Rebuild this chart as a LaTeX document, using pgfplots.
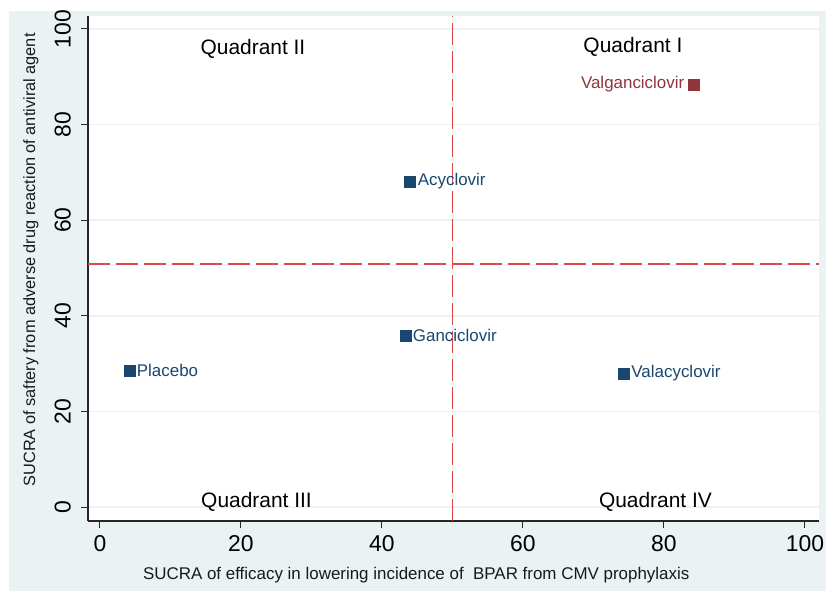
\documentclass[border=0pt]{standalone}
\usepackage{fontspec}
\setmainfont{Liberation Sans}
\usepackage{pgfplots}
\pgfplotsset{compat=1.18}
\definecolor{bg}{RGB}{234,242,243}
\definecolor{navy}{RGB}{26,71,111}
\definecolor{maroon}{RGB}{144,53,59}
\definecolor{dred}{RGB}{222,72,72}
\begin{document}
\begin{tikzpicture}[x=1bp,y=1bp]
\useasboundingbox (0,0) rectangle (826,593);
\fill[white] (0,0) rectangle (826,593);
\fill[bg] (9,2) rectangle (826,582);
\begin{axis}[
  at={(88bp,72bp)}, anchor=south west,
  scale only axis, width=731bp, height=505bp,
  xmin=-1.7, xmax=102, ymin=-2.9, ymax=102.7,
  axis background/.style={fill=white},
  axis lines=left,
  axis line style={-, line width=1.1bp, black!85},
  xtick={0,20,...,100}, ytick={0,20,...,100},
  tick align=outside, major tick length=7bp,
  tick style={line width=1bp, black!85},
  ymajorgrids, grid style={bg, line width=1.6bp},
  /pgf/number format/assume math mode=true,
  tick label style={font=\fontsize{23}{26}\selectfont, black},
  yticklabel style={rotate=90, anchor=south, inner xsep=2bp, inner ysep=10bp},
  xticklabel style={inner xsep=2bp, inner ysep=7bp},
  xlabel={SUCRA of efficacy in lowering incidence of\ \ BPAR from CMV prophylaxis},
  ylabel={SUCRA of saftery from adverse drug reaction of antiviral agent},
  label style={font=\fontsize{17}{20}\selectfont, black!90},
  xlabel style={at={(axis description cs:0.449,0)}, anchor=base, yshift=-59bp},
  ylabel style={at={(axis description cs:0,0.517)}, anchor=base, rotate=0, yshift=53bp, xshift=0bp, font=\fontsize{16.4}{19}\selectfont},
  clip=false,
]
\addplot[dred, line width=1.4bp, dash pattern=on 22bp off 6bp] coordinates {(50,-2.9) (50,102.7)};
\addplot[dred, line width=1.4bp, dash pattern=on 22bp off 6bp] coordinates {(-1.7,50.8) (102,50.8)};
\addplot[only marks, mark=square*, mark size=5.5bp, mark options={fill=navy, draw=navy},
  nodes near coords, point meta=explicit symbolic,
  every node near coord/.style={anchor=west, xshift=7bp, inner sep=0.5bp, text=navy, font=\fontsize{17}{20}\selectfont}]
  table[meta=label] {
  x y label
  44.0 68.1 Acyclovir
  43.3 35.8 Ganciclovir
  4.15 28.5 Placebo
  74.3 28.0 Valacyclovir
};
\addplot[only marks, mark=square*, mark size=5.5bp, mark options={fill=maroon, draw=maroon},
  nodes near coords, point meta=explicit symbolic,
  every node near coord/.style={anchor=east, xshift=-9bp, inner sep=0.5bp, text=maroon, font=\fontsize{17}{20}\selectfont}]
  table[meta=label] {
  x y label
  84.26 88.4 Valganciclovir
};
\node[anchor=base, font=\fontsize{21}{24}\selectfont] at (axis cs:21.7,94.6) {Quadrant II};
\node[anchor=base, font=\fontsize{21}{24}\selectfont] at (axis cs:75.6,95.0) {Quadrant I};
\node[anchor=base, font=\fontsize{21}{24}\selectfont] at (axis cs:22.2,0) {Quadrant III};
\node[anchor=base, font=\fontsize{21}{24}\selectfont] at (axis cs:78.8,0) {Quadrant IV};
\end{axis}
\end{tikzpicture}
\end{document}
